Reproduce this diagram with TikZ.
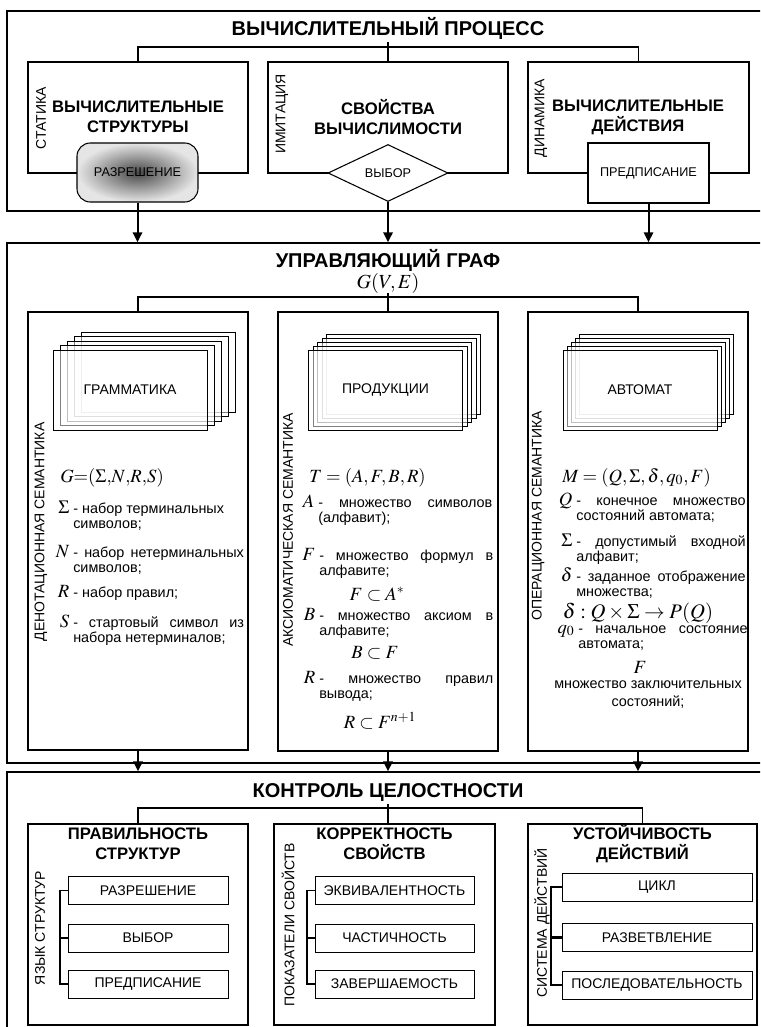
\documentclass[tikz,border=0pt]{standalone}
\usepackage{mathptmx}
\usepackage[no-math]{fontspec}
\setmainfont{Liberation Sans}
\usetikzlibrary{arrows.meta,shapes.geometric,fit,positioning}
\tikzstyle{outer_box}=[draw,line width=1pt,inner sep=0pt]
\tikzstyle{inner_box}=[draw,line width=0.8pt,fill=white,inner sep=0pt]
\tikzstyle{big_title}=[inner sep=2pt,font=\fontsize{15}{17}\selectfont\bfseries]
\tikzstyle{box_title}=[inner sep=0pt,align=center,font=\fontsize{12.5}{15}\selectfont\bfseries]
\tikzstyle{side_label}=[rotate=90,inner sep=0pt,font=\fontsize{10.5}{12}\selectfont]
\tikzstyle{small_text}=[font=\fontsize{9.5}{11}\selectfont]
\tikzstyle{sheet}=[draw,fill=white,fill opacity=0.5,line width=0.6pt,minimum width=115.5pt,minimum height=60pt]
\tikzstyle{sheet_text}=[font=\fontsize{10.5}{12}\selectfont]
\tikzstyle{list_box}=[draw,fill=white,line width=0.7pt,minimum height=21pt,font=\fontsize{10.5}{12}\selectfont]
\tikzstyle{def_text}=[anchor=base west,inner sep=0pt,align=justify,font=\fontsize{10.8}{11.25}\selectfont]
\tikzstyle{sym}=[anchor=base east,inner sep=0pt,xshift=-2.5pt,font=\fontsize{14}{16}\selectfont]
\tikzstyle{formula}=[anchor=base west,inner sep=0pt,font=\fontsize{14}{16}\selectfont]
\tikzstyle{flow}=[line width=1.5pt,-{Triangle[length=7.5pt,width=7pt]}]
\tikzstyle{link}=[line width=0.8pt]

\begin{document}
\begin{tikzpicture}[x=0.75pt,y=-0.75pt]
\useasboundingbox (0,0) rectangle (760,1027);
\clip (0,0) rectangle (760,1027);

\node[outer_box,fit={(7,11) (775,211)}] (proc) {};
\node[big_title] (proct) at (388,28) {ВЫЧИСЛИТЕЛЬНЫЙ ПРОЦЕСС};
\node[inner_box,fit={(28,62) (248,173)}] (stat) {};
\node[inner_box,fit={(268,62) (508,173)}] (imit) {};
\node[inner_box,fit={(528,62) (749,173)}] (dyn) {};
\coordinate (br1) at (388,47);
\draw[link] (stat.north) |- (br1) -| (dyn.north); \draw[link] (proct.south) -- (imit.north);
\node[side_label] (statl) at (41,118) {СТАТИКА};
\node[side_label] (imitl) at (282,114) {ИМИТАЦИЯ};
\node[side_label] (dynl) at (541,118) {ДИНАМИКА};
\node[box_title] (statt) at (138,117) {ВЫЧИСЛИТЕЛЬНЫЕ\\СТРУКТУРЫ};
\node[box_title] (imitt) at (388,117) {СВОЙСТВА\\ВЫЧИСЛИМОСТИ};
\node[box_title] (dynt) at (638,117) {ВЫЧИСЛИТЕЛЬНЫЕ\\ДЕЙСТВИЯ};
\node[draw,line width=0.8pt,rounded corners=10pt,shade,shading=radial,inner color=black!72,outer color=black!10,minimum width=90.75pt,minimum height=44.25pt,small_text] (razr) at (137.5,172.5) {РАЗРЕШЕНИЕ};
\node[diamond,draw,line width=0.8pt,fill=white,inner sep=0pt,minimum width=90pt,minimum height=42.75pt,small_text] (choice) at (388,173) {ВЫБОР};
\node[draw,line width=0.8pt,fill=white,minimum width=90.75pt,minimum height=45pt,small_text] (presc) at (648.5,173) {ПРЕДПИСАНИЕ};

\node[outer_box,fit={(7,243) (775,763)}] (graph) {};
\draw[flow] (razr.south) -- (razr.south |- graph.north);
\draw[flow] (choice.south) -- (choice.south |- graph.north);
\draw[flow] (presc.south) -- (presc.south |- graph.north);
\node[big_title] (grapht) at (388,260) {УПРАВЛЯЮЩИЙ ГРАФ};
\node[formula,anchor=center,font=\fontsize{15}{17}\selectfont] (graphf) at (388,283) {$G(V,E)$};
\node[inner_box,fit={(28,312) (248,750)}] (den) {};
\node[inner_box,fit={(278,312) (498,751)}] (axi) {};
\node[inner_box,fit={(528,312) (748,751)}] (oper) {};
\coordinate (br2) at (388,297);
\draw[link] (den.north) |- (br2) -| (oper.north); \draw[link] (graphf.south) -- (axi.north);
\node[side_label] (denl) at (41,532) {ДЕНОТАЦИОННАЯ СЕМАНТИКА};
\node[side_label] (axil) at (288,530) {АКСИОМАТИЧЕСКАЯ СЕМАНТИКА};
\node[side_label] (operl) at (538,516) {ОПЕРАЦИОННАЯ СЕМАНТИКА};

\foreach \i in {4,3,2,1,0} \node[sheet] (gram\i) at ({130+7*\i},{390-4.5*\i}) {};
\node[sheet_text] (gramt) at (gram0) {ГРАММАТИКА};
\foreach \i in {4,3,2,1,0} \node[sheet] (prod\i) at ({385.5+4.5*\i},{390-4*\i}) {};
\node[sheet_text] (prodt) at (prod0) {ПРОДУКЦИИ};
\foreach \i in {4,3,2,1,0} \node[sheet] (auto\i) at ({640+4*\i},{390-4*\i}) {};
\node[sheet_text] (autot) at (auto0) {АВТОМАТ};

\node[formula] (gform) at (60,482) {$G{=}(\Sigma{,}N{,}R{,}S)$};
\node[def_text,text width=128pt] (gsig) at (73,513) {- набор терминальных\newline символов;};
\node[sym] (gsigs) at (gsig.base west) {$\Sigma$};
\node[def_text,text width=128pt] (gn) at (73,557) {- набор нетерминальных\linebreak символов;};
\node[sym] (gns) at (gn.base west) {$N$};
\node[def_text,text width=128pt] (gr) at (73,597) {- набор правил;};
\node[sym] (grs) at (gr.base west) {$R$};
\node[def_text,text width=128pt] (gs) at (73,627) {- стартовый символ из\linebreak набора нетерминалов;};
\node[sym] (gss) at (gs.base west) {$S$};

\node[formula] (tform) at (309,482) {$T=(A,F,B,R)$};
\node[def_text,text width=130.5pt] (ta) at (318,507) {- множество символов\linebreak (алфавит);};
\node[sym] (tas) at (ta.base west) {$A$};
\node[def_text,text width=130.5pt] (tf) at (319,560) {- множество формул в\linebreak алфавите;};
\node[sym] (tfs) at (tf.base west) {$F$};
\node[formula,anchor=base] (tfa) at (377,600) {$F\subset A^{*}$};
\node[def_text,text width=130.5pt] (tb) at (319,620) {- множество аксиом в\linebreak алфавите;};
\node[sym] (tbs) at (tb.base west) {$B$};
\node[formula,anchor=base] (tbf) at (375,658) {$B\subset F$};
\node[def_text,text width=130.5pt] (tr) at (319,683) {- множество правил\linebreak вывода;};
\node[sym] (trs) at (tr.base west) {$R$};
\node[formula,anchor=base] (trf) at (380,728) {$R\subset F^{n+1}$};

\node[formula] (mform) at (562,482) {$M=(Q,\Sigma,\delta,q_0,F)$};
\node[def_text,text width=127pt] (mq) at (576,505) {- конечное множество\linebreak состояний автомата;};
\node[sym] (mqs) at (mq.base west) {$Q$};
\node[def_text,text width=127pt] (ms) at (576,546) {- допустимый входной\linebreak алфавит;};
\node[sym] (mss) at (ms.base west) {$\Sigma$};
\node[def_text,text width=127pt] (md) at (576,581) {- заданное отображение\linebreak множества;};
\node[sym] (mds) at (md.base west) {$\delta$};
\node[formula,anchor=base,font=\fontsize{15.5}{17}\selectfont] (mdf) at (638,618) {$\delta:Q\times\Sigma\to P(Q)$};
\node[def_text,text width=127pt] (mq0) at (578,633) {- начальное состояние\linebreak автомата;};
\node[sym] (mq0s) at (mq0.base west) {$q_0$};
\node[formula,anchor=base] (mfin) at (640,673) {$F$};
\node[anchor=north,inner sep=0pt,align=center,font=\fontsize{10.8}{13.5}\selectfont] (mfint) at (648,680) {множество заключительных\\состояний;};

\node[outer_box,fit={(7,772) (775,1040)}] (integ) {};
\draw[flow] (den.south) -- (den.south |- integ.north);
\draw[flow] (axi.south) -- (axi.south |- integ.north);
\draw[flow] (oper.south) -- (oper.south |- integ.north);
\node[big_title] (integt) at (388,792) {КОНТРОЛЬ ЦЕЛОСТНОСТИ};
\node[inner_box,fit={(28,824) (248,1025)}] (corr) {};
\node[inner_box,fit={(274,824) (495,1025)}] (prop) {};
\node[inner_box,fit={(528,824) (757,1025)}] (stab) {};
\coordinate (br3) at (388,808);
\draw[link] (corr.north) |- (br3) -| (stab.north); \draw[link] (integt.south) -- (integt.south |- prop.north);
\node[box_title] (corrt) at (138,844) {ПРАВИЛЬНОСТЬ\\СТРУКТУР};
\node[box_title] (propt) at (384.5,844) {КОРРЕКТНОСТЬ\\СВОЙСТВ};
\node[box_title] (stabt) at (642.5,844) {УСТОЙЧИВОСТЬ\\ДЕЙСТВИЙ};
\node[side_label] (corrl) at (40,928) {ЯЗЫК СТРУКТУР};
\node[side_label] (propl) at (288,925) {ПОКАЗАТЕЛИ СВОЙСТВ};
\node[side_label] (stabl) at (542,923) {СИСТЕМА ДЕЙСТВИЙ};

\node[list_box,minimum width=120pt] (lst1) at (148,890.5) {РАЗРЕШЕНИЕ};
\node[list_box,minimum width=120pt] (lst2) at (148,938) {ВЫБОР};
\node[list_box,minimum width=120pt] (lst3) at (148,984) {ПРЕДПИСАНИЕ};
\coordinate (lbar) at (60,938);
\draw[link] (lst1.west) -| (lbar) |- (lst3.west); \draw[line width=1.6pt] (lbar) -- (lst2.west);
\node[list_box,minimum width=119.25pt] (pst1) at (394.5,890.5) {ЭКВИВАЛЕНТНОСТЬ};
\node[list_box,minimum width=119.25pt] (pst2) at (394.5,938) {ЧАСТИЧНОСТЬ};
\node[list_box,minimum width=119.25pt] (pst3) at (394.5,984) {ЗАВЕРШАЕМОСТЬ};
\coordinate (pbar) at (307,938);
\draw[link] (pst1.west) -| (pbar) |- (pst3.west); \draw[line width=1.6pt] (pbar) -- (pst2.west);
\node[list_box,minimum width=142.5pt] (sst1) at (657,887) {ЦИКЛ};
\node[list_box,minimum width=142.5pt] (sst2) at (657,937.5) {РАЗВЕТВЛЕНИЕ};
\node[list_box,minimum width=142.5pt] (sst3) at (657,985) {ПОСЛЕДОВАТЕЛЬНОСТЬ};
\coordinate (sbar) at (551,937.5);
\draw[link] (sst1.west) -| (sbar) |- (sst3.west); \draw[line width=1.6pt] (sbar) -- (sst2.west);

\end{tikzpicture}
\end{document}
